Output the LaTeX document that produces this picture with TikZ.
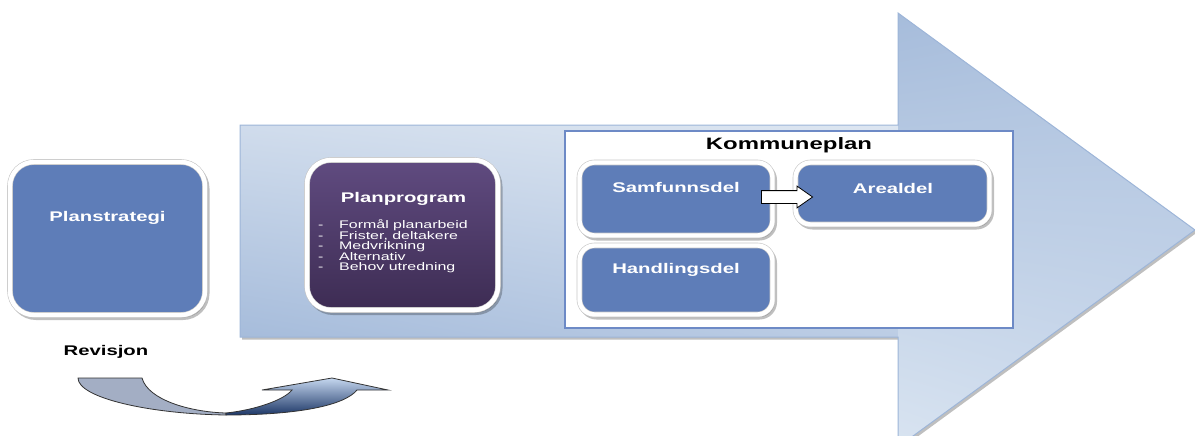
\documentclass[tikz,border=0pt]{standalone}
\usepackage{fontspec}
\setmainfont{Liberation Sans}[FakeStretch=1.45]
\usetikzlibrary{shadows,shadings,shapes.arrows}

\definecolor{boxblue}{HTML}{5E7DB8}
\definecolor{progtop}{HTML}{604B80}
\definecolor{progbot}{HTML}{3D2C53}
\definecolor{kpblue}{HTML}{6D8AC6}
\definecolor{bigedge}{HTML}{9DB5D8}
\definecolor{revgray}{HTML}{A3AEC4}
\definecolor{shaftul}{HTML}{D0DCEC}
\definecolor{shaftur}{HTML}{DDE6F1}
\definecolor{shaftll}{HTML}{A6BCDB}
\definecolor{shaftlr}{HTML}{BCCDE5}
\definecolor{headul}{HTML}{A6BCDB}
\definecolor{headur}{HTML}{AFC3DF}
\definecolor{headll}{HTML}{D9E4F1}
\definecolor{headlr}{HTML}{CBD9EC}
\definecolor{revtop}{HTML}{C5D7EF}
\definecolor{revbot}{HTML}{1D3767}

\begin{document}
\begin{tikzpicture} [
    x=1pt, y=-1pt,
    box/.style={rectangle, draw=black!22, line width=0.6pt, double=white, double distance=4.4pt, fill=boxblue, rounded corners=15pt, inner sep=0pt,
        drop shadow={shadow xshift=2pt, shadow yshift=-2.5pt, opacity=0.25, fill=black, draw=black, line width=5pt}},
    lbl/.style={text=white, font=\fontsize{14}{16}\selectfont\bfseries, inner sep=0pt},
    title/.style={text=black, font=\fontsize{14}{16}\selectfont\bfseries, inner sep=0pt}
]
    \useasboundingbox (0,0) rectangle (1195,436);

    % stor pil
    \fill[black, opacity=0.25, shift={(2,2.5)}] (240,125) -- (898,125) -- (898,13) -- (1195,230) -- (898,447) -- (898,337) -- (240,337) -- cycle;
    \begin{scope}
        \clip (240,125) -- (898,125) -- (898,13) -- (1195,230) -- (898,447) -- (898,337) -- (240,337) -- cycle;
        \shade[upper left=shaftul, upper right=shaftur, lower left=shaftll, lower right=shaftlr] (240,125) rectangle (898,337);
        \shade[upper left=headul, upper right=headur, lower left=headll, lower right=headlr] (898,13) rectangle (1195,447);
    \end{scope}
    \draw[bigedge, line width=1pt] (240,125) -- (898,125) -- (898,13) -- (1195,230) -- (898,447) -- (898,337) -- (240,337) -- cycle;

    % planstrategi
    \node[box, rounded corners=24pt, minimum width=195pt, minimum height=153pt] (strat) at (107.5,238.5) {};
    \node[lbl] (stratlbl) at (107.5,218) {Planstrategi};

    % planprogram
    \node[box, rounded corners=24pt, top color=progtop, bottom color=progbot, minimum width=191pt, minimum height=150pt] (prog) at (402.5,235) {};
    \node[lbl] (proglbl) at (403.5,199) {Planprogram};
    \node[anchor=west, align=left, text=white, font=\fontsize{11}{10.4}\selectfont, inner sep=0pt] (proglist) at (318,246.5)
        {\makebox[21pt][l]{-}Formål planarbeid\\
         \makebox[21pt][l]{-}Frister, deltakere\\
         \makebox[21pt][l]{-}Medvrikning\\
         \makebox[21pt][l]{-}Alternativ\\
         \makebox[21pt][l]{-}Behov utredning};

    % kommuneplan
    \node[rectangle, draw=kpblue, line width=1.5pt, fill=white, minimum width=448pt, minimum height=197pt, inner sep=0pt] (kp) at (789,229.5) {};
    \node[title, font=\fontsize{16.5}{18}\selectfont\bfseries] (kplbl) at (789,145) {Kommuneplan};

    \node[box, minimum width=193pt, minimum height=73pt] (samf) at (676,199) {};
    \node[lbl] (samflbl) at (676,187) {Samfunnsdel};
    \node[box, minimum width=194pt, minimum height=62pt] (areal) at (892.5,193.5) {};
    \node[lbl] (areallbl) at (893,188) {Arealdel};
    \node[box, minimum width=193pt, minimum height=69pt] (hand) at (676,280) {};
    \node[lbl] (handlbl) at (676,270) {Handlingsdel};

    % pil samfunnsdel -> arealdel
    \node[single arrow, draw=black, line width=0.8pt, fill=white, inner xsep=0pt, inner ysep=6pt,
          minimum height=51pt, single arrow head extend=4.5pt, single arrow tip angle=70] (push) at (782.5,197) {};

    % revisjon
    \node[title] (rev) at (106,352) {Revisjon};
    \draw[black!80, line width=0.8pt, fill=revgray] (78,378) -- (142,378)
        .. controls (148,400) and (190,412) .. (226,413)
        -- (226,415) .. controls (150,414) and (78,398) .. (78,378) -- cycle;
    \shade[draw=black!80, line width=0.8pt, top color=revtop, bottom color=revbot]
        (226,413) .. controls (255,410) and (284,400) .. (292,390) -- (262,390) -- (332,378) -- (388,390) -- (357,390)
        .. controls (345,405) and (300,415) .. (226,415) -- cycle;
\end{tikzpicture}
\end{document}
